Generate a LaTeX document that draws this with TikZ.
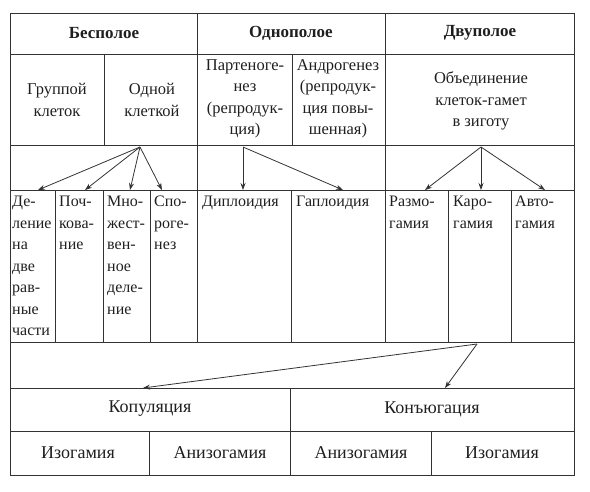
\documentclass[tikz,border=0pt]{standalone}
\usepackage{fontspec}
\setmainfont{Liberation Serif}
\usetikzlibrary{arrows.meta}
\begin{document}
\begin{tikzpicture}[x=1pt,y=-1pt,
  grid/.style={draw=black!80, line width=0.8pt},
  txt/.style={font=\fontsize{16.5}{21.5}\selectfont, inner sep=0pt, align=center, text=black!88},
  big/.style={txt, font=\fontsize{18}{21.5}\selectfont},
  hdr/.style={txt, font=\fontsize{17}{21.5}\selectfont\bfseries},
  cell/.style={txt, font=\fontsize{16}{21.5}\selectfont, anchor=north west, align=left},
  arr/.style={draw=black!80, line width=0.8pt, -{Stealth[length=7pt,width=5pt]}}]
\useasboundingbox (0,0) rectangle (590,491);
% grid
\draw[grid] (10,13) rectangle (574,475);
\foreach \yy in {54,145,190,342,388,431} \draw[grid] (10,\yy) -- (574,\yy);
\draw[grid] (197,13) -- (197,342);
\draw[grid] (385,13) -- (385,342);
\draw[grid] (104,54) -- (104,145);
\draw[grid] (292,54) -- (292,145);
\foreach \xx in {55,103,150,291,448,511} \draw[grid] (\xx,190) -- (\xx,342);
\draw[grid] (290,388) -- (290,475);
\draw[grid] (149,431) -- (149,475);
\draw[grid] (431,431) -- (431,475);
% headers
\node[hdr] (bes) at (104,33) {Бесполое};
\node[hdr] (odn) at (291,33) {Однополое};
\node[hdr] (dvu) at (480,33) {Двуполое};
% second row
\node[txt] (grp) at (57,100) {Группой\\клеток};
\node[txt] (one) at (152,100) {Одной\\клеткой};
\node[txt] (par) at (245,99) {Партеноге-\\нез\\(репродук-\\ция)};
\node[txt] (and) at (338,99) {Андрогенез\\(репродук-\\ция повы-\\шенная)};
\node[txt] (obj) at (481,101) {Объединение\\клеток-гамет\\в зиготу};
% lower columns
\node[cell] (del) at (12,196) {Де-\\ление\\на\\две\\рав-\\ные\\части};
\node[cell] (poch) at (59,196) {Поч-\\кова-\\ние};
\node[cell] (mno) at (107,196) {Мно-\\жест-\\вен-\\ное\\деле-\\ние};
\node[cell] (spo) at (154,196) {Спо-\\роге-\\нез};
\node[cell] (dip) at (202,196) {Диплоидия};
\node[cell] (gap) at (296,196) {Гаплоидия};
\node[cell] (raz) at (389,196) {Размо-\\гамия};
\node[cell] (kar) at (453,196) {Каро-\\гамия};
\node[cell] (avt) at (515,196) {Авто-\\гамия};
% bottom
\node[big] (kop) at (150,409) {Копуляция};
\node[big] (kon) at (432,409) {Конъюгация};
\node[big] (iz1) at (78,453) {Изогамия};
\node[big] (an1) at (220,453) {Анизогамия};
\node[big] (an2) at (361,453) {Анизогамия};
\node[big] (iz2) at (502,453) {Изогамия};
% arrow coordinates
\coordinate (s1) at (140,147);
\coordinate (t11) at (38,190);
\coordinate (t12) at (85,190);
\coordinate (t13) at (130,190);
\coordinate (t14) at (162,190);
\coordinate (s2) at (243,147);
\coordinate (t21) at (243,190);
\coordinate (t22) at (343,190);
\coordinate (s3) at (481,147);
\coordinate (t31) at (425,190);
\coordinate (t32) at (481,190);
\coordinate (t33) at (545,190);
\coordinate (s4) at (477,344);
\coordinate (t41) at (143,388);
\coordinate (t42) at (445,388);
\foreach \t in {t11,t12,t13,t14} \draw[arr] (s1) -- (\t);
\foreach \t in {t21,t22} \draw[arr] (s2) -- (\t);
\foreach \t in {t31,t32,t33} \draw[arr] (s3) -- (\t);
\foreach \t in {t41,t42} \draw[arr] (s4) -- (\t);
\end{tikzpicture}
\end{document}
